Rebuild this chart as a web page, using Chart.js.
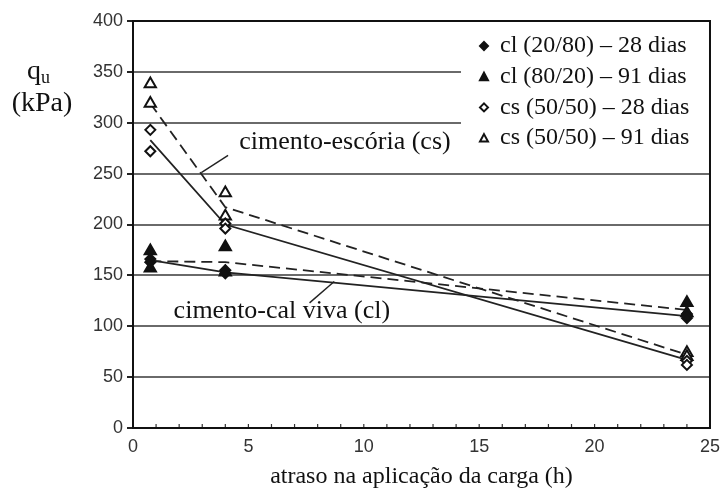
<!DOCTYPE html>
<html>
<head>
<meta charset="utf-8">
<script src="https://cdn.jsdelivr.net/npm/chart.js@4/dist/chart.umd.min.js"></script>
<style>
  html, body { margin: 0; padding: 0; background: #fff; }
  #wrap { width: 728px; height: 495px; }
</style>
</head>
<body>
<div id="wrap"><canvas id="c" width="728" height="495"></canvas></div>
<script>
// Delay between mixing and loading (h) for each measured specimen
const pointDelays = [0.75, 0.75, 4, 4, 24, 24];
// Unconfined compressive strength q_u (kPa)
const cl28Values = [166, 163, 155, 152, 112, 108];
const cl91Values = [174, 157, 178, 153, 123, 113];
const cs28Values = [293, 272, 201, 196, 66, 62];
const cs91Values = [338, 319, 231, 208, 74, 70];

// Trend lines (28 dias solid, 91 dias dashed)
const trendDelays = [0.75, 4, 24];
const clSolid = [165, 153, 110];
const clDashed = [164, 163, 116];
const csSolid = [283, 200, 67];
const csDashed = [319, 217, 72];

const seriesLabels = [
  'cl (20/80) \u2013 28 dias',
  'cl (80/20) \u2013 91 dias',
  'cs (50/50) \u2013 28 dias',
  'cs (50/50) \u2013 91 dias'
];
const xTickValues = [0, 5, 10, 15, 20, 25];
const yTickValues = [0, 50, 100, 150, 200, 250, 300, 350, 400];

const xAxisTitle = 'atraso na aplica\u00e7\u00e3o da carga (h)';
const csLabel = 'cimento-esc\u00f3ria (cs)';
const clLabel = 'cimento-cal viva (cl)';

const INK = '#111';
const SERIF = '"Liberation Serif", "Times New Roman", serif';
const SANS = '"Liberation Sans", Arial, sans-serif';

function pts(xs, ys) { return ys.map((y, i) => ({ x: xs[i], y })); }

const markerStyles = [
  { pointStyle: 'rectRot', radius: 5, fill: INK },
  { pointStyle: 'triangle', radius: 6.5, fill: INK },
  { pointStyle: 'rectRot', radius: 5, fill: '#fff' },
  { pointStyle: 'triangle', radius: 6.5, fill: '#fff' }
];
const markerValues = [cl28Values, cl91Values, cs28Values, cs91Values];

const pointSets = markerValues.map((vals, i) => ({
  label: seriesLabels[i],
  data: pts(pointDelays, vals),
  showLine: false,
  pointStyle: markerStyles[i].pointStyle,
  pointRadius: markerStyles[i].radius,
  pointBackgroundColor: markerStyles[i].fill,
  pointBorderColor: INK,
  pointBorderWidth: 2
}));

function trend(vals, dashed) {
  return {
    label: '',
    data: pts(trendDelays, vals),
    showLine: true,
    borderColor: '#222',
    borderWidth: 1.8,
    borderDash: dashed ? [11, 6] : [],
    pointRadius: 0,
    tension: 0
  };
}

const trendSets = [
  trend(clSolid, false), trend(clDashed, true),
  trend(csSolid, false), trend(csDashed, true)
];

// Annotations placed in data units: text anchor and leader line
const annotations = [
  { text: csLabel, x: 4.6, y: 281, box: true,
    leader: [[4.12, 268], [2.96, 251]] },
  { text: clLabel, x: 1.76, y: 115, box: false,
    leader: [[7.65, 123], [8.72, 144]] }
];

const decorPlugin = {
  id: 'decor',
  afterDatasetsDraw(chart) {
    const ctx = chart.ctx;
    const xs = chart.scales.x, ys = chart.scales.y;
    const a = chart.chartArea;
    ctx.save();

    // minor ticks along the time axis
    ctx.strokeStyle = '#333';
    ctx.lineWidth = 1.2;
    for (let v = 0; v <= 25; v++) {
      const px = xs.getPixelForValue(v);
      ctx.beginPath();
      ctx.moveTo(px, a.bottom);
      ctx.lineTo(px, a.bottom - 4);
      ctx.stroke();
    }

    // annotations
    annotations.forEach(an => {
      ctx.font = '26px ' + SERIF;
      ctx.textBaseline = 'middle';
      ctx.textAlign = 'left';
      const tx = xs.getPixelForValue(an.x);
      const ty = ys.getPixelForValue(an.y);
      if (an.box) {
        const w = ctx.measureText(an.text).width;
        ctx.fillStyle = '#fff';
        ctx.fillRect(tx - 8, ty - 17, w + 14, 34);
      }
      ctx.fillStyle = INK;
      ctx.fillText(an.text, tx, ty);
      ctx.strokeStyle = '#222';
      ctx.lineWidth = 1.4;
      ctx.beginPath();
      ctx.moveTo(xs.getPixelForValue(an.leader[0][0]), ys.getPixelForValue(an.leader[0][1]));
      ctx.lineTo(xs.getPixelForValue(an.leader[1][0]), ys.getPixelForValue(an.leader[1][1]));
      ctx.stroke();
    });

    // legend box
    const lx = a.right - 249, ly = a.top + 1;
    ctx.fillStyle = '#fff';
    ctx.fillRect(lx, ly, 248, 133);
    markerStyles.forEach((m, i) => {
      const cy = ly + 24 + i * 30.7;
      const cx = lx + 23;
      ctx.fillStyle = m.fill;
      ctx.strokeStyle = INK;
      ctx.lineWidth = 2;
      ctx.beginPath();
      if (m.pointStyle === 'triangle') {
        ctx.moveTo(cx, cy - 4);
        ctx.lineTo(cx + 4, cy + 3.5);
        ctx.lineTo(cx - 4, cy + 3.5);
      } else {
        ctx.moveTo(cx, cy - 4);
        ctx.lineTo(cx + 4, cy);
        ctx.lineTo(cx, cy + 4);
        ctx.lineTo(cx - 4, cy);
      }
      ctx.closePath();
      ctx.fill();
      ctx.stroke();
      ctx.fillStyle = INK;
      ctx.font = '24px ' + SERIF;
      ctx.textAlign = 'left';
      ctx.textBaseline = 'middle';
      ctx.fillText(seriesLabels[i], lx + 39, cy);
    });

    // frame
    ctx.strokeStyle = INK;
    ctx.lineWidth = 2;
    ctx.strokeRect(a.left, a.top, a.right - a.left, a.bottom - a.top);

    ctx.restore();
  },
  afterDraw(chart) {
    const ctx = chart.ctx;
    const a = chart.chartArea;
    ctx.save();
    ctx.fillStyle = INK;
    // y-axis title with subscript
    ctx.textBaseline = 'alphabetic';
    ctx.textAlign = 'left';
    ctx.font = '28px ' + SERIF;
    ctx.fillText('q', 27, 79);
    const qw = ctx.measureText('q').width;
    ctx.font = '18px ' + SERIF;
    ctx.fillText('u', 27 + qw, 83);
    ctx.font = '28px ' + SERIF;
    ctx.textAlign = 'center';
    ctx.fillText('(kPa)', 42, 111);
    // x-axis title
    ctx.textBaseline = 'middle';
    ctx.font = '24px ' + SERIF;
    ctx.fillText(xAxisTitle, (a.left + a.right) / 2, 477);
    ctx.restore();
  }
};

new Chart(document.getElementById('c'), {
  type: 'scatter',
  data: { datasets: pointSets.concat(trendSets) },
  options: {
    responsive: false,
    animation: false,
    devicePixelRatio: 1,
    layout: { padding: { top: 21, right: 11, left: 0, bottom: 0 } },
    plugins: { legend: { display: false }, tooltip: { enabled: false } },
    scales: {
      x: {
        type: 'linear',
        min: 0, max: 25,
        afterFit(s) { s.height = 67; },
        afterBuildTicks(s) { s.ticks = xTickValues.map(v => ({ value: v })); },
        grid: { display: true, drawOnChartArea: false, drawTicks: false },
        border: { display: false },
        ticks: { padding: 8, color: '#333', font: { family: SANS, size: 18 } }
      },
      y: {
        type: 'linear',
        min: 0, max: 400,
        afterFit(s) { s.width = 133; },
        afterBuildTicks(s) { s.ticks = yTickValues.map(v => ({ value: v })); },
        grid: { color: '#6a6a6a', lineWidth: 2, tickLength: 6, tickColor: '#222' },
        border: { display: false },
        ticks: { padding: 4, color: '#333', font: { family: SANS, size: 18 } }
      }
    }
  },
  plugins: [decorPlugin]
});
</script>
</body>
</html>
